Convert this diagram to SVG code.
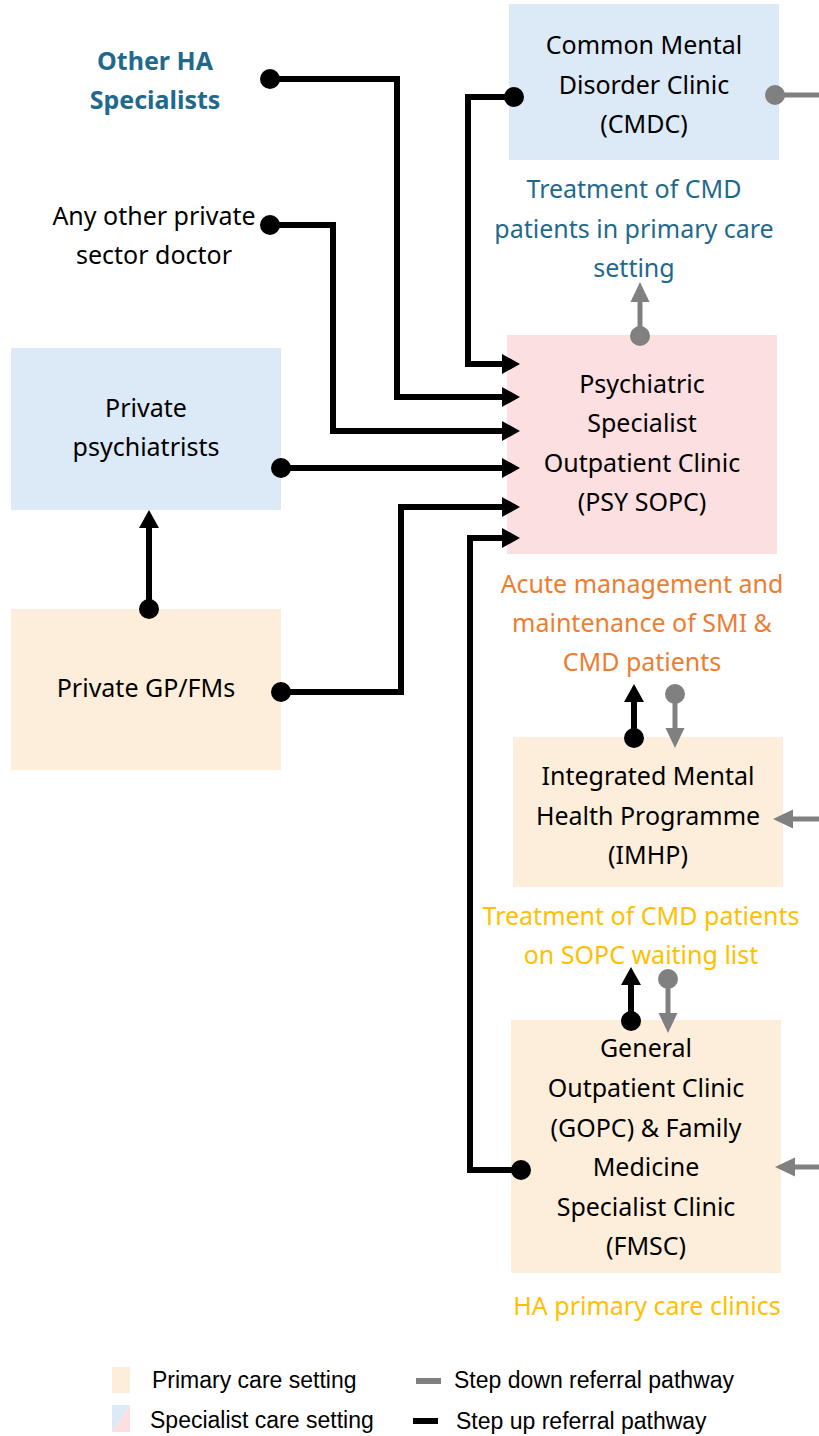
<svg xmlns="http://www.w3.org/2000/svg" width="819" height="1436" viewBox="0 0 819 1436">
<style>
.t{font-family:"Noto Sans","Liberation Sans",sans-serif;font-size:25px;fill:#000;text-anchor:middle}
.blue{fill:#1f6a8c}
.b{font-weight:bold}
.orange{fill:#ed7d31}
.gold{fill:#ffc000}
.lg{font-family:"Liberation Sans",Arial,sans-serif;font-size:23px;fill:#000}
.spec{fill:#dce9f6}
.pink{fill:#fbdfe1}
.prim{fill:#fdeedb}
.up{fill:none;stroke:#000;stroke-width:6;marker-start:url(#dotB);marker-end:url(#arrB)}
.dn{fill:none;stroke:#808080;stroke-width:5;marker-start:url(#dotG);marker-end:url(#arrG)}
.dn2{fill:none;stroke:#808080;stroke-width:5;marker-end:url(#arrG)}
.dn3{fill:none;stroke:#808080;stroke-width:5;marker-start:url(#dotG)}
</style>
<defs>
<marker id="arrB" markerUnits="userSpaceOnUse" markerWidth="20" markerHeight="22" refX="0" refY="11" orient="auto" overflow="visible"><path d="M0,1 L18,11 L0,21 z" fill="#000"/></marker>
<marker id="dotB" markerUnits="userSpaceOnUse" markerWidth="22" markerHeight="22" refX="11" refY="11" orient="auto" overflow="visible"><circle cx="11" cy="11" r="10" fill="#000"/></marker>
<marker id="arrG" markerUnits="userSpaceOnUse" markerWidth="22" markerHeight="22" refX="0" refY="11" orient="auto" overflow="visible"><path d="M0,1.5 L20,11 L0,20.5 z" fill="#808080"/></marker>
<marker id="dotG" markerUnits="userSpaceOnUse" markerWidth="22" markerHeight="22" refX="11" refY="11" orient="auto" overflow="visible"><circle cx="11" cy="11" r="10" fill="#808080"/></marker>
</defs>

<g id="node-cmdc">
<rect class="spec" x="509" y="4" width="270" height="156"/>
<text class="t" x="644" y="54">Common Mental</text>
<text class="t" x="644" y="94">Disorder Clinic</text>
<text class="t" x="644" y="133">(CMDC)</text>
</g>
<g id="label-cmdc">
<text class="t blue" x="634" y="198">Treatment of CMD</text>
<text class="t blue" x="634" y="238">patients in primary care</text>
<text class="t blue" x="634" y="277">setting</text>
</g>
<g id="node-otherha">
<text class="t blue b" x="155" y="70">Other HA</text>
<text class="t blue b" x="155" y="109">Specialists</text>
</g>
<g id="node-anyother">
<text class="t" x="154" y="225">Any other private</text>
<text class="t" x="154" y="264">sector doctor</text>
</g>
<g id="node-sopc">
<rect class="pink" x="507" y="335" width="270" height="219"/>
<text class="t" x="642" y="393">Psychiatric</text>
<text class="t" x="642" y="432">Specialist</text>
<text class="t" x="642" y="472">Outpatient Clinic</text>
<text class="t" x="642" y="511">(PSY SOPC)</text>
</g>
<g id="label-sopc">
<text class="t orange" x="642" y="593">Acute management and</text>
<text class="t orange" x="642" y="632">maintenance of SMI &amp;</text>
<text class="t orange" x="642" y="671">CMD patients</text>
</g>
<g id="node-privpsy">
<rect class="spec" x="11" y="348" width="270" height="162"/>
<text class="t" x="146" y="417">Private</text>
<text class="t" x="146" y="456">psychiatrists</text>
</g>
<g id="node-privgp">
<rect class="prim" x="11" y="609" width="270" height="161"/>
<text class="t" x="146" y="697">Private GP/FMs</text>
</g>
<g id="node-imhp">
<rect class="prim" x="513" y="737" width="270" height="150"/>
<text class="t" x="648" y="785">Integrated Mental</text>
<text class="t" x="648" y="825">Health Programme</text>
<text class="t" x="648" y="864">(IMHP)</text>
</g>
<g id="label-imhp">
<text class="t gold" x="641" y="925">Treatment of CMD patients</text>
<text class="t gold" x="641" y="964">on SOPC waiting list</text>
</g>
<g id="node-gopc">
<rect class="prim" x="511" y="1020" width="270" height="253"/>
<text class="t" x="646" y="1057">General</text>
<text class="t" x="646" y="1097">Outpatient Clinic</text>
<text class="t" x="646" y="1137">(GOPC) &amp; Family</text>
<text class="t" x="646" y="1176">Medicine</text>
<text class="t" x="646" y="1216">Specialist Clinic</text>
<text class="t" x="646" y="1255">(FMSC)</text>
</g>
<g id="label-gopc">
<text class="t gold" x="647" y="1315">HA primary care clinics</text>
</g>

<g id="connectors">
<path class="up" d="M514,97 H468 V364 H502"/>
<path class="up" d="M270,79 H397 V397 H502"/>
<path class="up" d="M270,225 H333 V431 H502"/>
<path class="up" d="M281,468 H502"/>
<path class="up" d="M281,692 H401 V507 H502"/>
<path class="up" d="M521,1170 H470 V538 H502"/>
<path class="up" d="M149,609 V528"/>
<path class="up" d="M634,738 V702"/>
<path class="up" d="M631,1021 V985"/>
<path class="dn3" d="M775,95 H819"/>
<path class="dn" d="M640,336 V302"/>
<path class="dn" d="M675,694 V728"/>
<path class="dn" d="M668,979 V1013"/>
<path class="dn2" d="M819,819 H793"/>
<path class="dn2" d="M819,1167 H795"/>
</g>

<g id="legend">
<rect class="prim" x="112" y="1367" width="18" height="26"/>
<polygon class="spec" points="112,1405 130,1405 112,1432"/>
<polygon class="pink" points="130,1405 130,1432 112,1432"/>
<text class="lg" x="152" y="1388">Primary care setting</text>
<text class="lg" x="150" y="1428">Specialist care setting</text>
<line x1="416" y1="1381" x2="441" y2="1381" stroke="#808080" stroke-width="6"/>
<text class="lg" x="454" y="1388">Step down referral pathway</text>
<line x1="413" y1="1421" x2="438" y2="1421" stroke="#000" stroke-width="6"/>
<text class="lg" x="456" y="1429">Step up referral pathway</text>
</g>
</svg>
